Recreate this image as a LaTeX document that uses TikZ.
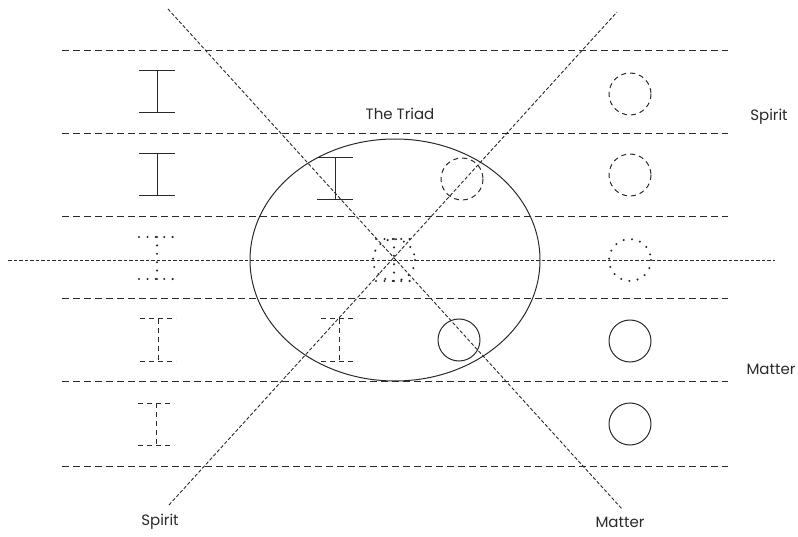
\documentclass[tikz,border=0pt]{standalone}
\usepackage{fontspec}
\setmainfont{Poppins}
\usetikzlibrary{positioning}
\definecolor{inkGray}{HTML}{2A2A2A}

\tikzset{
  rowline/.style={draw=inkGray, line width=0.9pt, dash pattern=on 7pt off 4pt},
  axisline/.style={draw=inkGray, line width=0.9pt, dash pattern=on 3.5pt off 2pt},
  solidmark/.style={draw=inkGray, line width=1pt},
  dashmark/.style={draw=inkGray, line width=1pt, dash pattern=on 5pt off 4pt},
  dotmark/.style={draw=inkGray, line width=2.3pt, line cap=round, dash pattern=on 0pt off 8.4pt},
  label/.style={font=\fontsize{15}{18}\selectfont, text=inkGray, inner sep=0pt}
}

% I-beam of 36 x 42 around a point
\newcommand{\ibeam}[3]{%
  \draw[#3, shift={(#1,#2)}] (-18,-21) -- (18,-21) (0,-21) -- (0,21) (-18,21) -- (18,21);}

\begin{document}
\begin{tikzpicture}[x=1pt, y=-1pt]

\useasboundingbox (0,0) rectangle (798,537);

% the rows
\foreach \ypos in {50,133,216,298,381,466}
  \draw[rowline] (62,\ypos) -- (728,\ypos);

\draw[axisline] (8,260) -- (775,260);
\draw[axisline] (168,9) -- (622,509);
\draw[axisline] (169,505) -- (617,12);

% the triad
\draw[solidmark] (395,260) ellipse [x radius=145, y radius=121];

% left column
\ibeam{157}{92}{solidmark}
\ibeam{157}{175}{solidmark}
\ibeam{157}{258}{dotmark}
\ibeam{158}{340}{dashmark}
\ibeam{156}{424}{dashmark}

% inside the triad
\ibeam{335}{179}{solidmark}
\ibeam{339}{340}{dashmark}
\ibeam{394}{260}{dotmark}
\draw[dotmark] (394,260) circle [radius=21];
\draw[dashmark] (462,179) circle [radius=21];
\draw[solidmark] (459,340) circle [radius=21];

% right column
\draw[dashmark] (630,94) circle [radius=21];
\draw[dashmark] (630,175) circle [radius=21];
\draw[dotmark] (630,260) circle [radius=21];
\draw[solidmark] (630,341) circle [radius=21];
\draw[solidmark] (630,424) circle [radius=21];

% labels
\node[label] (triad) at (400,114) {The Triad};
\node[label] (spiritR) at (769,117) {Spirit};
\node[label] (matterR) at (771,369) {Matter};
\node[label] (spiritB) at (160,522) {Spirit};
\node[label] (matterB) at (620,522) {Matter};

\end{tikzpicture}
\end{document}
